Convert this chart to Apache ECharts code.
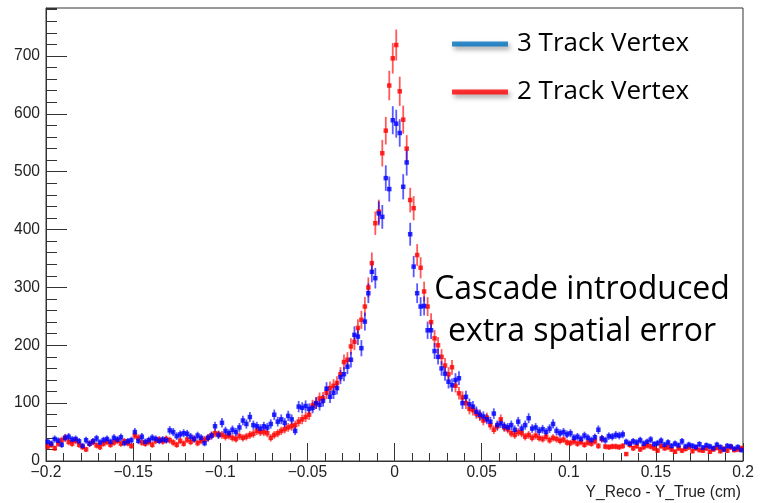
<!DOCTYPE html>
<html><head><meta charset="utf-8">
<script src="https://cdn.jsdelivr.net/npm/echarts@6/dist/echarts.min.js"></script>
<style>html,body{margin:0;padding:0;background:#fff}#c{width:769px;height:503px}</style>
</head><body><div id="c"></div>
<script>
// Histogram binning: 200 bins from -0.2 to 0.2 cm
const binStart = -0.2;
const binWidth = 0.002;

// 3 Track Vertex counts per bin
const blue3 = [
33,30,38,35,28,40,42,37,38,34, 26,36,30,34,39,32,36,38,33,40,
37,41,31,34,36,50,35,42,33,36, 40,38,35,37,36,53,50,43,46,48,
47,42,38,44,40,31,40,44,60,45, 66,52,48,54,50,58,70,64,76,62,
60,56,60,58,64,80,68,72,66,78, 72,52,94,92,95,90,92,100,97,104,
125,111,118,126,145,150,163,175,218,215, 195,241,290,327,316,428,422,489,470,589,
583,567,474,516,392,336,290,267,268,226, 226,190,180,160,151,137,131,140,143,100,
111,98,94,85,80,77,72,68,82,62, 65,60,58,62,54,68,56,62,74,56,
58,52,55,50,56,64,52,48,50,46, 48,40,42,38,44,40,36,41,54,39,
36,43,42,45,44,46,33,30,34,32, 36,30,33,37,29,31,35,28,32,26,
30,27,34,25,28,26,24,29,23,27, 25,22,28,24,20,26,25,21,24,19
];
// 2 Track Vertex counts per bin
const red2 = [
25,28,22,30,36,40,33,30,35,28, 24,20,30,33,27,24,30,33,28,32,
35,30,34,31,26,44,40,32,30,33, 28,35,37,34,38,36,32,28,35,30,
37,33,38,31,35,37,40,44,48,46, 45,42,44,40,38,43,40,42,45,47,
52,50,50,48,40,45,48,52,55,58, 60,62,68,72,76,80,96,100,108,109,
118,126,130,135,150,171,175,198,206,230, 244,267,300,342,411,431,532,571,649,696,
719,639,590,540,451,437,356,334,293,267, 240,212,200,180,165,150,162,130,117,110,
100,90,88,82,78,70,75,62,54,60, 72,58,55,48,45,50,48,42,45,40,
44,40,38,42,36,40,38,35,37,32, 31,34,30,33,28,32,30,34,26,38,
25,24,25,25,24,26,12,28,22,26, 20,24,27,25,22,18,26,22,24,20,
16,22,18,21,24,17,22,19,18,22, 16,20,23,17,21,18,24,19,20,22
];

const seriesNames = ['3 Track Vertex', '2 Track Vertex'];
const xAxisTitle = 'Y_Reco - Y_True (cm)';
const noteLines = ['Cascade introduced', 'extra spatial error'];

function toPts(vals) {
  return vals.map((v, i) => [binStart + binWidth * (i + 0.5), v, Math.sqrt(v)]);
}

function errSeries(vals, color) {
  return {
    type: 'custom',
    silent: true,
    clip: true,
    data: toPts(vals),
    encode: { x: 0, y: 1 },
    z: 2,
    renderItem: function (params, api) {
      const x = api.value(0), y = api.value(1), e = api.value(2);
      const p1 = api.coord([x, Math.max(0, y - e)]);
      const p2 = api.coord([x, y + e]);
      return { type: 'line', shape: { x1: p1[0], y1: p1[1], x2: p2[0], y2: p2[1] },
        style: { stroke: color, lineWidth: 1.8 } };
    }
  };
}

const chart = echarts.init(document.getElementById('c'), null, { renderer: 'canvas' });
const axisFont = 'Liberation Sans';
const fmtX = v => {
  const r = parseFloat(Number(v).toFixed(3));
  if (r === 0) return '0';
  return (r < 0 ? '\u2212' : '') + String(Math.abs(r));
};

chart.setOption({
  animation: false,
  backgroundColor: '#fff',
  grid: { left: 46, top: 8, right: 26, bottom: 42, show: true, borderColor: '#333', borderWidth: 1 },
  legend: {
    orient: 'vertical', left: 452, top: 29, padding: 0,
    itemWidth: 56, itemHeight: 5, itemGap: 18, icon: 'rect', selectedMode: false,
    textStyle: { fontFamily: 'Open Sans', fontSize: 26, color: '#000', lineHeight: 30, padding: [0, 0, 0, 4] },
    data: [
      { name: seriesNames[0], itemStyle: { color: '#0070C0', shadowColor: 'rgba(0,0,0,0.45)', shadowBlur: 5, shadowOffsetX: 2, shadowOffsetY: 3 } },
      { name: seriesNames[1], itemStyle: { color: '#FF0000', shadowColor: 'rgba(0,0,0,0.45)', shadowBlur: 5, shadowOffsetX: 2, shadowOffsetY: 3 } }
    ]
  },
  xAxis: {
    type: 'value', min: -0.2, max: 0.2, interval: 0.05,
    axisLine: { show: true, onZero: false, lineStyle: { color: '#333', width: 1 } },
    axisTick: { show: true, inside: true, length: 18, lineStyle: { color: '#333' } },
    minorTick: { show: true, splitNumber: 5, length: 8, lineStyle: { color: '#333' } },
    axisLabel: { margin: 4, fontFamily: axisFont, fontSize: 15.6, color: '#222', formatter: fmtX },
    splitLine: { show: false },
    name: xAxisTitle, nameLocation: 'end', nameGap: -2,
    nameTextStyle: { fontFamily: axisFont, fontSize: 15.6, color: '#222', align: 'right', verticalAlign: 'top', padding: [24, 0, 0, 0] }
  },
  yAxis: [
    {
      type: 'value', min: 0, max: 783, interval: 100,
      axisLine: { show: true, onZero: false, lineStyle: { color: '#333', width: 1 } },
      axisTick: { show: true, inside: true, length: 21, lineStyle: { color: '#333' } },
      axisLabel: { margin: 6, fontFamily: axisFont, fontSize: 15.6, color: '#222', showMaxLabel: false },
      splitLine: { show: false }
    },
    {
      type: 'value', min: 0, max: 783, interval: 20, position: 'left',
      axisLine: { show: false, onZero: false },
      axisTick: { show: true, inside: true, length: 11, lineStyle: { color: '#333' } },
      axisLabel: { show: false },
      splitLine: { show: false }
    }
  ],
  series: [
    errSeries(red2, 'rgba(255,0,0,0.65)'),
    { type: 'scatter', name: seriesNames[1], data: toPts(red2), symbol: 'rect', symbolSize: 4.5,
      itemStyle: { color: '#FF0000' }, z: 3, silent: true },
    errSeries(blue3, 'rgba(0,0,255,0.65)'),
    { type: 'scatter', name: seriesNames[0], data: toPts(blue3), symbol: 'rect', symbolSize: 4.5,
      itemStyle: { color: '#0000FF' }, z: 4, silent: true }
  ],
  graphic: [
    { type: 'text', x: 582, y: 290, z: 10,
      style: { text: noteLines[0], fontFamily: 'Open Sans', fontSize: 32, fill: '#000', align: 'center', verticalAlign: 'middle' } },
    { type: 'text', x: 582, y: 332, z: 10,
      style: { text: noteLines[1], fontFamily: 'Open Sans', fontSize: 32, fill: '#000', align: 'center', verticalAlign: 'middle' } }
  ]
});
</script>
</body></html>
